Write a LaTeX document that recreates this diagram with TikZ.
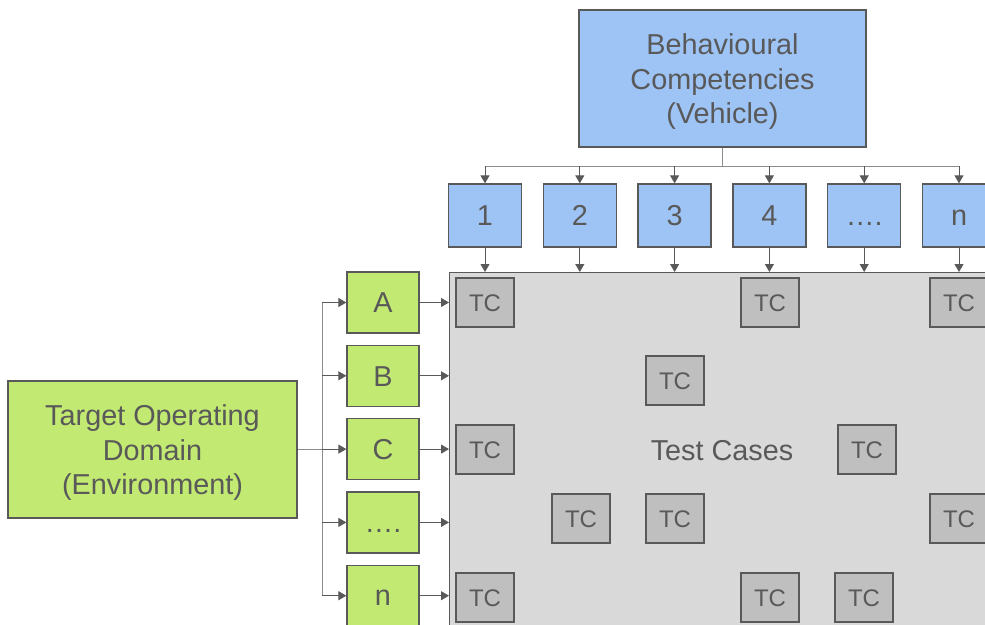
\documentclass[tikz,border=0pt]{standalone}
\usepackage{fontspec}
\setmainfont{Liberation Sans}
\usetikzlibrary{arrows.meta}

\definecolor{compblue}{HTML}{9EC3F5}
\definecolor{envgreen}{HTML}{C2EA72}
\definecolor{areagray}{HTML}{D9D9D9}
\definecolor{tcgray}{HTML}{BFBFBF}
\definecolor{edgegray}{HTML}{595959}
\definecolor{wiregray}{HTML}{8C8C8C}

\newcommand{\moredots}{….}
\newcommand{\topstrut}{\rule{0pt}{27pt}}

\begin{document}
\begin{tikzpicture}[%
        x = 1pt, y = -1pt,
        > = {Triangle[width=9pt, length=8pt]},
        every node/.style = {%
            text = edgegray, align = center, inner sep = 0pt,
            font = \fontsize{28.8}{34.5}\selectfont
        },
        box/.style = {draw = edgegray, line width = 1.3pt},
        compbox/.style = {box, fill = compblue},
        envbox/.style = {box, fill = envgreen},
        smallbox/.style = {text height = 20.5pt, text depth = 0pt},
        tcbox/.style = {%
            box, fill = tcgray, minimum width = 58, minimum height = 49,
            text height = 17pt, text depth = 0pt,
            font = \fontsize{24}{26}\selectfont
        },
        link/.style = {draw = wiregray, line width = 1pt},
        arrowlink/.style = {link, ->, edgegray}
    ]

        % Fix the page to the size of the reference.
        \useasboundingbox (0, 0) rectangle (985, 624);

        % Behavioural competencies on top, one box per competency.
        \node[compbox, minimum width = 287, minimum height = 137]
            (comp) at (722.5, 78.5)
            {\topstrut Behavioural\\Competencies\\(Vehicle)};
        \foreach \lab [count = \i] in {1, 2, 3, 4, \moredots, n}
            \node[compbox, smallbox, minimum width = 73, minimum height = 63]
                (b\i) at (485 + 94.8*\i - 94.8, 215.5) {\lab};

        % Grey field holding the test cases.
        \node[box, fill = areagray, anchor = north west,
              minimum width = 700, minimum height = 450]
            (tests) at (449, 272) {};
        \node[smallbox] (label) at (722, 450) {Test Cases};

        % Target operating domain on the left, one box per condition.
        \node[envbox, minimum width = 289, minimum height = 137]
            (tod) at (152.5, 449.5)
            {\topstrut Target Operating\\Domain\\(Environment)};
        \foreach \lab [count = \i] in {A, B, C, \moredots, n}
            \node[envbox, smallbox, minimum width = 72, minimum height = 61]
                (g\i) at (383, 302.5 + 73.3*\i - 73.3) {\lab};

        % Test cases scattered over the field.
        \foreach \x/\y [count = \i] in {%
                485/302.5, 770/302.5, 959/302.5,
                675/380.5,
                485/449.5, 867/449.5,
                581/518.5, 675/518.5, 959/518.5,
                485/597.5, 770/597.5, 864/597.5}
            \node[tcbox] (tc\i) at (\x, \y) {TC};

        % Fan out from the competencies box.
        \coordinate (bus) at (722.5, 166);
        \draw[link] (comp.south) -- (bus);
        \draw[link] (bus -| b1) -- (bus -| b6);
        \foreach \i in {1, 2, 3, 4, 5, 6} {
            \draw[arrowlink] (bus -| b\i) -- (b\i.north);
            \draw[arrowlink] (b\i.south) -- (b\i.south |- tests.north);
        }

        % Fan out from the domain box.
        \coordinate (trunk) at (322, 449.5);
        \draw[link] (tod.east) -- (trunk);
        \draw[link] (trunk |- g1) -- (trunk |- g5);
        \foreach \i in {1, 2, 3, 4, 5} {
            \draw[arrowlink] (trunk |- g\i) -- (g\i.west);
            \draw[arrowlink] (g\i.east) -- (g\i.east -| tests.west);
        }
    \end{tikzpicture}
\end{document}
